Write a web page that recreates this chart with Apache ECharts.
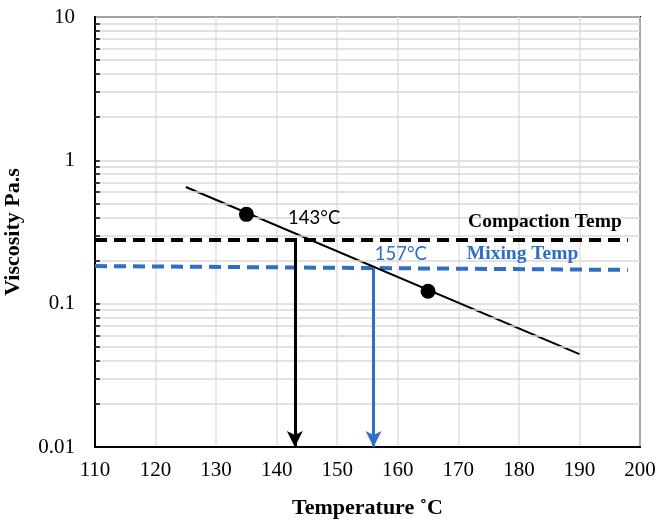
<!DOCTYPE html>
<html><head><meta charset="utf-8">
<script src="https://cdn.jsdelivr.net/npm/echarts@6/dist/echarts.min.js"></script>
<style>html,body{margin:0;padding:0;background:#fff}#c{width:657px;height:523px}</style>
</head><body><div id="c"></div>
<script>
// Data
const xTicks = [110,120,130,140,150,160,170,180,190,200];
const trendLine = [[125,0.652],[190,0.0445]];
const measured = [[135,0.42],[165,0.122]];
const compaction = [[110,0.278],[198,0.278]];
const mixing = [[110,0.183],[198,0.172]];
const compactionTemp = 143;
const mixingTemp = 156;
const compactionVisc = 0.278;
const mixingVisc = 0.177;
const annotations = [
  {name:'143°C', value:[146.2,0.395], color:'#000', bold:false},
  {name:'157°C', value:[160.5,0.222], color:'#2e6ec4', bold:false},
  {name:'Compaction Temp', value:[184.3,0.372], color:'#000', bold:true},
  {name:'Mixing Temp', value:[180.6,0.222], color:'#2e6ec4', bold:true}
];
const decades = [0.01,0.1,1];
const minorVals = [];
decades.forEach(d=>{for(let k=2;k<=9;k++) minorVals.push(+(d*k).toPrecision(3));});

const FONT = '"Liberation Serif","Times New Roman",serif';
const SANS = 'Lato,"Open Sans",sans-serif';
const BLUE = '#2e6ec4';
const chart = echarts.init(document.getElementById('c'));
chart.setOption({
  animation:false,
  grid:{left:95,right:17,top:17,bottom:76,containLabel:false,outerBoundsMode:'none',show:true,borderColor:'#000',borderWidth:2,backgroundColor:'transparent'},
  xAxis:{type:'value',min:110,max:200,interval:10,
    name:'Temperature ˚C',nameLocation:'middle',nameGap:50,
    nameTextStyle:{fontFamily:FONT,fontWeight:'bold',fontSize:22,color:'#000'},
    axisLine:{show:true,lineStyle:{color:'#000',width:2}},
    axisTick:{show:false},
    axisLabel:{fontFamily:FONT,fontSize:21,color:'#000',margin:13,hideOverlap:false},
    splitLine:{show:true,lineStyle:{color:'#e0e0e0',width:1.5}}},
  yAxis:{type:'log',logBase:10,min:0.01,max:10,
    name:'Viscosity Pa.s',nameLocation:'middle',nameGap:71,
    nameTextStyle:{fontFamily:FONT,fontWeight:'bold',fontSize:22,color:'#000'},
    axisLine:{show:true,lineStyle:{color:'#000',width:2}},
    axisTick:{show:false},
    axisLabel:{fontFamily:FONT,fontSize:21,color:'#000',margin:20,formatter:v=>String(+v.toPrecision(3))},
    splitLine:{show:true,lineStyle:{color:'#d9d9d9',width:1.5}}},
  series:[
    {type:'line',data:[[110,1],[200,1]],symbol:'none',lineStyle:{width:0,opacity:0},silent:true,z:1,
      markLine:{silent:true,symbol:'none',label:{show:false},animation:false,
        lineStyle:{color:'#d9d9d9',width:1.5,type:'solid'},
        data:minorVals.map(v=>({yAxis:v}))}},
    {type:'line',data:[[110,1],[200,1]],symbol:'none',lineStyle:{width:0,opacity:0},silent:true,z:5,
      markLine:{silent:true,symbol:'none',label:{show:false},animation:false,
        lineStyle:{color:'#000',width:1.5,type:'solid'},
        data:minorVals.concat([0.1,1]).map(v=>[{coord:[110,v]},{coord:[110.8,v]}])}},
    {type:'line',data:compaction,symbol:'none',lineStyle:{color:'#000',width:4,type:[12,7]},z:3},
    {type:'line',data:mixing,symbol:'none',lineStyle:{color:BLUE,width:4,type:[12,7]},z:3},
    {type:'line',data:trendLine,symbol:'none',lineStyle:{color:'#000',width:2},z:4},
    {type:'scatter',data:measured,symbol:'circle',symbolSize:15,itemStyle:{color:'#000',opacity:1},z:6},
    {type:'line',data:[[compactionTemp,compactionVisc],[compactionTemp,0.01]],symbol:'none',lineStyle:{width:0,opacity:0},z:4,
      markLine:{silent:true,symbol:['none','arrow'],symbolSize:[12,16],label:{show:false},animation:false,
        lineStyle:{color:'#000',width:3,type:'solid'},
        data:[[{coord:[compactionTemp,compactionVisc]},{coord:[compactionTemp,0.01]}]]}},
    {type:'line',data:[[mixingTemp,mixingVisc],[mixingTemp,0.01]],symbol:'none',lineStyle:{width:0,opacity:0},z:4,
      markLine:{silent:true,symbol:['none','arrow'],symbolSize:[12,16],label:{show:false},animation:false,
        lineStyle:{color:BLUE,width:3,type:'solid'},
        data:[[{coord:[mixingTemp,mixingVisc]},{coord:[mixingTemp,0.01]}]]}},
    {type:'scatter',symbolSize:0,z:7,silent:true,itemStyle:{opacity:1},
      data:annotations.map(a=>({value:a.value,label:{show:true,position:'inside',formatter:a.name,opacity:1,
        color:a.color,fontFamily:a.bold?FONT:SANS,fontSize:a.bold?19.5:18.5,fontWeight:a.bold?'bold':'normal'}}))}
  ]
});
</script></body></html>
